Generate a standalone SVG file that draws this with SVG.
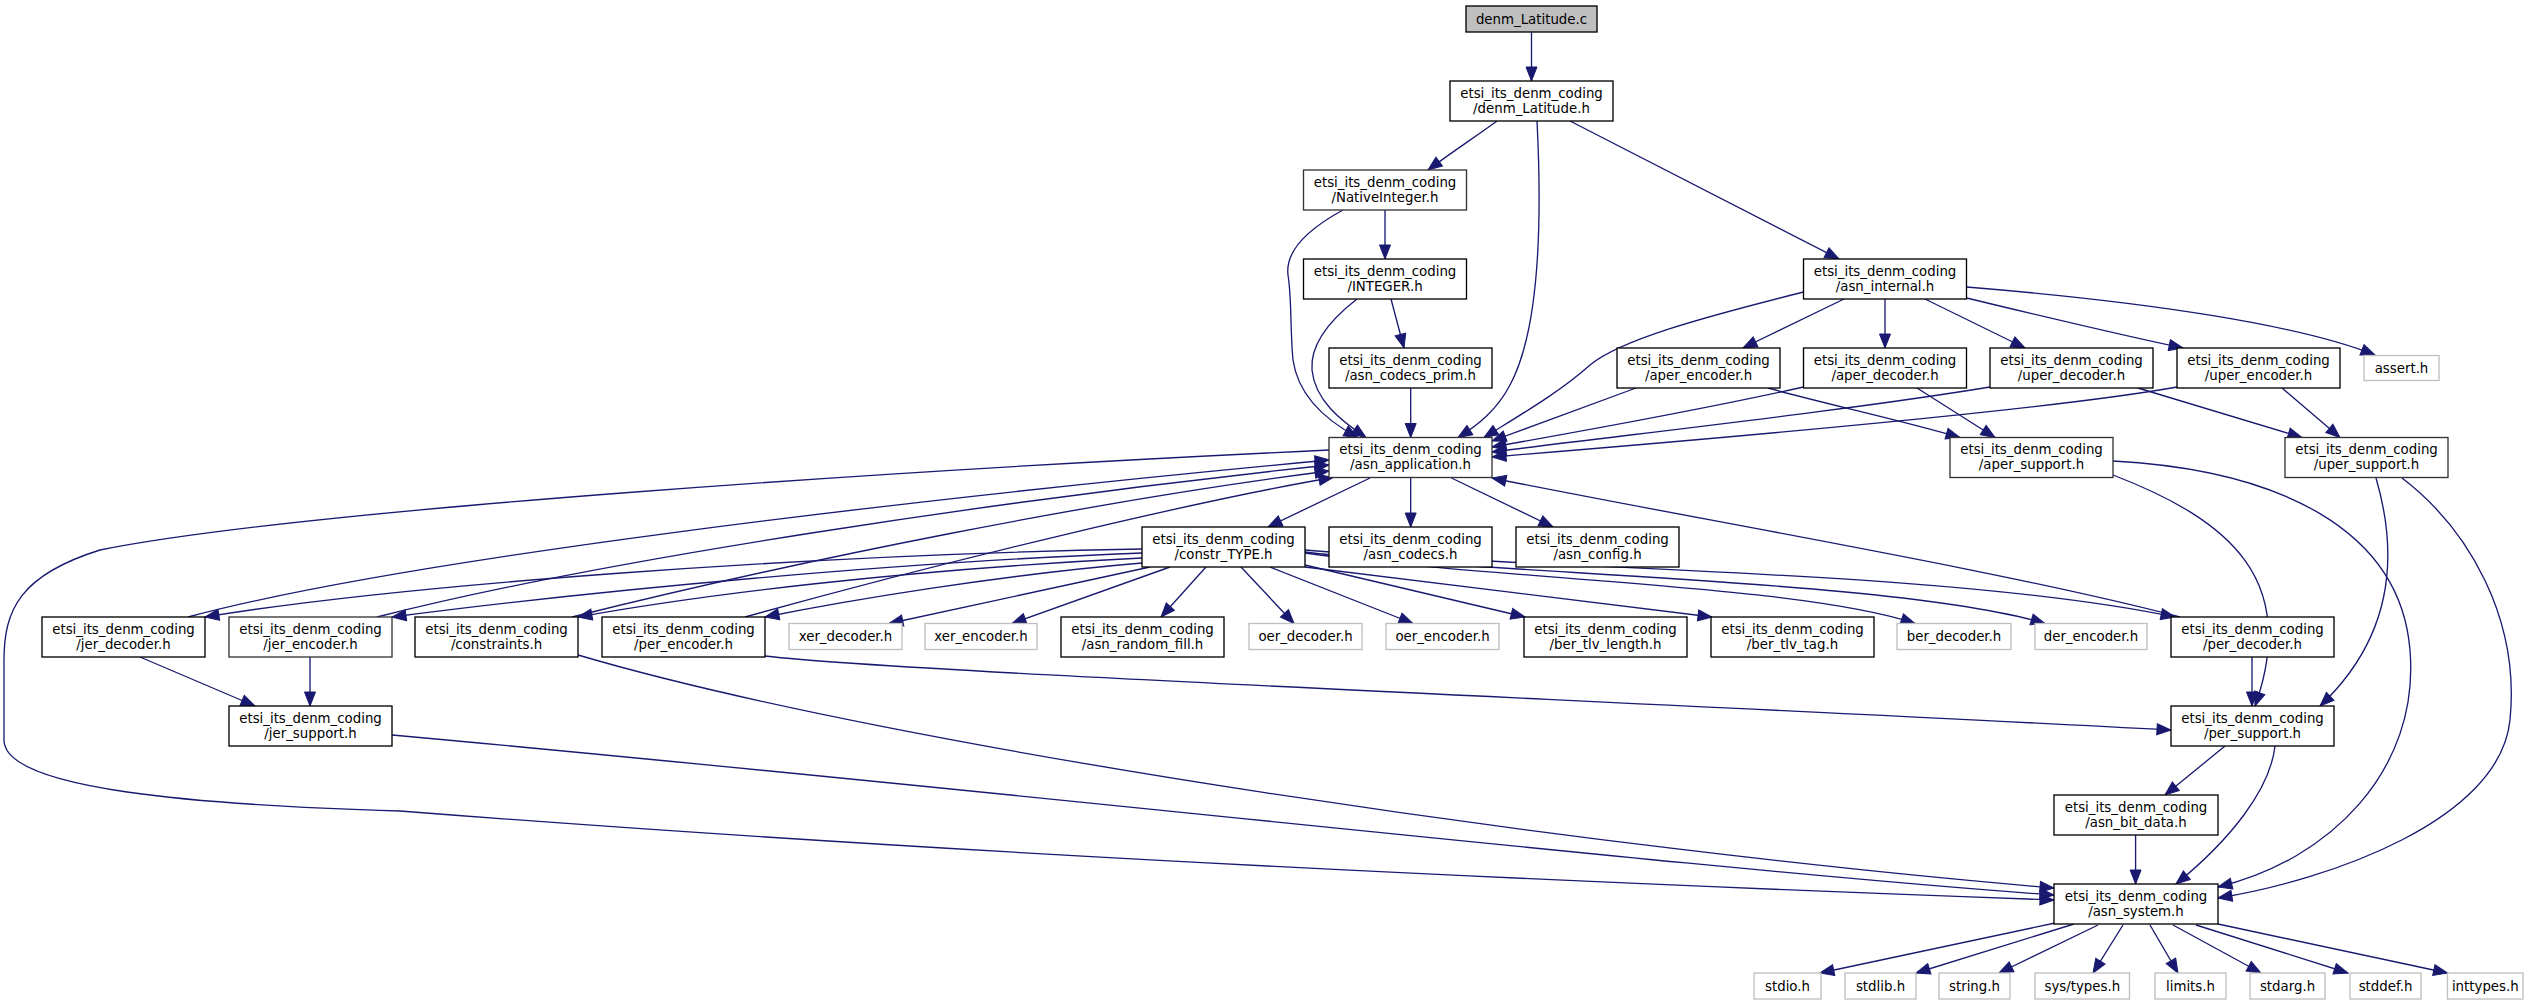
<svg xmlns="http://www.w3.org/2000/svg" width="2541" height="1005" viewBox="0 0 2541 1005">
<style>
.n rect{fill:#fff;stroke:#000;stroke-width:1.33}
.n.k rect{stroke:#333}
.n.x rect{stroke:#bfbfbf}
.n.r rect{fill:#bfbfbf;stroke:#000}
text{font-family:"DejaVu Sans","Liberation Sans",sans-serif;font-size:13.33px;text-anchor:middle;fill:#000}
#edges path{fill:none;stroke:#191970;stroke-width:1.33;marker-end:url(#a)}
</style>
<defs>
<marker id="a" markerUnits="userSpaceOnUse" markerWidth="16" markerHeight="13" refX="14" refY="5.5" orient="auto" viewBox="-1 -1 16 13">
<path d="M0,0 L14,5.5 L0,11 z" fill="#191970" stroke="#191970" stroke-width="1"/>
</marker>
</defs>
<rect width="2541" height="1005" fill="#fff"/>
<g id="edges">
<path d="M1531.5,32 L1531.5,81"/>
<path d="M1497,121 C1478,135 1455,150 1428,170"/>
<path d="M1537,121 C1540,180 1545,320 1510,385 C1497,410 1478,425 1458,437.5"/>
<path d="M1570,121 L1839,259"/>
<path d="M1385,210 L1385,259"/>
<path d="M1343,210 C1310,228 1285,250 1288,275 C1292,300 1290,330 1293,360 C1298,395 1325,420 1358,437.5"/>
<path d="M1357,299 C1330,320 1310,345 1312,370 C1315,400 1340,420 1366,437.5"/>
<path d="M1391,299 L1404,348"/>
<path d="M1410.7,388 L1410.7,437.5"/>
<path d="M1803.5,292 C1700,318 1620,340 1590,365 C1560,392 1520,415 1484,437.5"/>
<path d="M1844,299 L1743,348"/>
<path d="M1885,299 L1885,348"/>
<path d="M1925,299 L2025,348"/>
<path d="M1966.5,298 C2050,318 2120,335 2183,348"/>
<path d="M1966.5,287 C2150,302 2300,325 2375,355"/>
<path d="M1636,388 L1492,441"/>
<path d="M1803.5,387 C1700,410 1600,428 1492,447"/>
<path d="M1990,387 C1850,410 1650,432 1492,452"/>
<path d="M2177,387 C2050,410 1700,440 1492,457"/>
<path d="M1768,388 C1830,405 1900,420 1960,437.5"/>
<path d="M1917,388 L1995,437.5"/>
<path d="M2138,388 L2302,437.5"/>
<path d="M2282,388 L2340,437.5"/>
<path d="M2113,475 C2230,520 2300,580 2255,706"/>
<path d="M2113,461 C2280,470 2400,530 2410,650 C2420,770 2330,860 2218,887"/>
<path d="M2376,478 C2400,560 2390,640 2320,706"/>
<path d="M2402,478 C2470,530 2520,620 2510,720 C2500,820 2330,880 2218,898"/>
<path d="M1329,450 C900,470 300,510 100,550 C20,575 4,610 4,660 L4,740 C4,790 200,805 400,811 C900,850 1500,880 2054,900"/>
<path d="M1370,478 L1268,527"/>
<path d="M1410.7,478 L1410.7,527"/>
<path d="M1451.5,478 L1553,527"/>
<path d="M2180,617 C2000,570 1700,520 1492,478"/>
<path d="M1142,549 C800,555 400,585 205,617"/>
<path d="M1142,553 C900,562 600,590 392,617"/>
<path d="M1142,558 C900,570 700,595 578,617"/>
<path d="M1142,563 C1000,575 850,600 765,617"/>
<path d="M1150,567 L889,623.5"/>
<path d="M1170,567 L1012,623.5"/>
<path d="M1206,567 L1161,617"/>
<path d="M1241,567 L1294,623.5"/>
<path d="M1270,567 L1413,623.5"/>
<path d="M1305,565 L1525,617"/>
<path d="M1305,567 L1712,617"/>
<path d="M1305,553 C1500,580 1800,585 1915,623.5"/>
<path d="M1305,552 C1500,575 1900,580 2045,623.5"/>
<path d="M1305,550 C1550,570 1950,570 2175,617"/>
<path d="M188,617 C400,560 900,500 1329,460"/>
<path d="M377,617 C600,560 1000,500 1329,465"/>
<path d="M572,617 C800,560 1100,500 1329,471"/>
<path d="M745,617 C950,560 1200,500 1333,477.5"/>
<path d="M140,657 L255,706"/>
<path d="M310,657 L310,706"/>
<path d="M765,656 C900,672 1600,700 2171,730"/>
<path d="M578,655 C900,750 1600,850 2054,888"/>
<path d="M392,735 C1000,790 1700,870 2054,895"/>
<path d="M2252,657 L2252,706"/>
<path d="M2225,746 L2165,795"/>
<path d="M2275,746 C2270,790 2230,840 2176,884"/>
<path d="M2135.6,835 L2135.6,884"/>
<path d="M2055,923 L1820,973"/>
<path d="M2074,924 L1916,973"/>
<path d="M2098,925 L1999,973"/>
<path d="M2123,925 L2093,973"/>
<path d="M2150,925 L2178,973"/>
<path d="M2173,925 L2261,973"/>
<path d="M2196,925 L2348,973"/>
<path d="M2218,924 L2447.5,973"/>
</g>
<g id="n_c" class="n r"><rect x="1466" y="6" width="131" height="26"/><text x="1531.5" y="23.5">denm_Latitude.c</text></g>
<g id="n_h" class="n"><rect x="1450" y="81" width="163" height="40"/><text x="1531.5" y="97.5">etsi_its_denm_coding</text><text x="1531.5" y="112.5">/denm_Latitude.h</text></g>
<g id="n_native" class="n k"><rect x="1303.5" y="170" width="163" height="40"/><text x="1385" y="186.5">etsi_its_denm_coding</text><text x="1385" y="201.5">/NativeInteger.h</text></g>
<g id="n_integer" class="n"><rect x="1303.5" y="259" width="163" height="40"/><text x="1385" y="275.5">etsi_its_denm_coding</text><text x="1385" y="290.5">/INTEGER.h</text></g>
<g id="n_prim" class="n"><rect x="1329" y="348" width="163" height="40"/><text x="1410.5" y="364.5">etsi_its_denm_coding</text><text x="1410.5" y="379.5">/asn_codecs_prim.h</text></g>
<g id="n_internal" class="n"><rect x="1803.5" y="259" width="163" height="40"/><text x="1885" y="275.5">etsi_its_denm_coding</text><text x="1885" y="290.5">/asn_internal.h</text></g>
<g id="n_aper_enc" class="n"><rect x="1617" y="348" width="163" height="40"/><text x="1698.5" y="364.5">etsi_its_denm_coding</text><text x="1698.5" y="379.5">/aper_encoder.h</text></g>
<g id="n_aper_dec" class="n"><rect x="1803.5" y="348" width="163" height="40"/><text x="1885" y="364.5">etsi_its_denm_coding</text><text x="1885" y="379.5">/aper_decoder.h</text></g>
<g id="n_uper_dec" class="n"><rect x="1990" y="348" width="163" height="40"/><text x="2071.5" y="364.5">etsi_its_denm_coding</text><text x="2071.5" y="379.5">/uper_decoder.h</text></g>
<g id="n_uper_enc" class="n"><rect x="2177" y="348" width="163" height="40"/><text x="2258.5" y="364.5">etsi_its_denm_coding</text><text x="2258.5" y="379.5">/uper_encoder.h</text></g>
<g id="n_assert" class="n x"><rect x="2364" y="355.5" width="75" height="25"/><text x="2401.5" y="372.5">assert.h</text></g>
<g id="n_app" class="n k"><rect x="1329" y="437.5" width="163" height="40"/><text x="1410.5" y="454">etsi_its_denm_coding</text><text x="1410.5" y="469">/asn_application.h</text></g>
<g id="n_aper_sup" class="n k"><rect x="1950" y="437.5" width="163" height="40"/><text x="2031.5" y="454">etsi_its_denm_coding</text><text x="2031.5" y="469">/aper_support.h</text></g>
<g id="n_uper_sup" class="n k"><rect x="2285" y="437.5" width="163" height="40"/><text x="2366.5" y="454">etsi_its_denm_coding</text><text x="2366.5" y="469">/uper_support.h</text></g>
<g id="n_constr" class="n"><rect x="1142" y="527" width="163" height="40"/><text x="1223.5" y="543.5">etsi_its_denm_coding</text><text x="1223.5" y="558.5">/constr_TYPE.h</text></g>
<g id="n_codecs" class="n"><rect x="1329" y="527" width="163" height="40"/><text x="1410.5" y="543.5">etsi_its_denm_coding</text><text x="1410.5" y="558.5">/asn_codecs.h</text></g>
<g id="n_config" class="n"><rect x="1516" y="527" width="163" height="40"/><text x="1597.5" y="543.5">etsi_its_denm_coding</text><text x="1597.5" y="558.5">/asn_config.h</text></g>
<g id="n_jer_dec" class="n"><rect x="42" y="617" width="163" height="40"/><text x="123.5" y="633.5">etsi_its_denm_coding</text><text x="123.5" y="648.5">/jer_decoder.h</text></g>
<g id="n_jer_enc" class="n k"><rect x="229" y="617" width="163" height="40"/><text x="310.5" y="633.5">etsi_its_denm_coding</text><text x="310.5" y="648.5">/jer_encoder.h</text></g>
<g id="n_constraints" class="n"><rect x="415" y="617" width="163" height="40"/><text x="496.5" y="633.5">etsi_its_denm_coding</text><text x="496.5" y="648.5">/constraints.h</text></g>
<g id="n_per_enc" class="n"><rect x="602" y="617" width="163" height="40"/><text x="683.5" y="633.5">etsi_its_denm_coding</text><text x="683.5" y="648.5">/per_encoder.h</text></g>
<g id="n_xer_dec" class="n x"><rect x="789" y="623.5" width="113" height="26"/><text x="845.5" y="641">xer_decoder.h</text></g>
<g id="n_xer_enc" class="n x"><rect x="925" y="623.5" width="112" height="26"/><text x="981" y="641">xer_encoder.h</text></g>
<g id="n_random" class="n"><rect x="1061" y="617" width="163" height="40"/><text x="1142.5" y="633.5">etsi_its_denm_coding</text><text x="1142.5" y="648.5">/asn_random_fill.h</text></g>
<g id="n_oer_dec" class="n x"><rect x="1249" y="623.5" width="113" height="26"/><text x="1305.5" y="641">oer_decoder.h</text></g>
<g id="n_oer_enc" class="n x"><rect x="1386" y="623.5" width="113" height="26"/><text x="1442.5" y="641">oer_encoder.h</text></g>
<g id="n_ber_len" class="n"><rect x="1524" y="617" width="163" height="40"/><text x="1605.5" y="633.5">etsi_its_denm_coding</text><text x="1605.5" y="648.5">/ber_tlv_length.h</text></g>
<g id="n_ber_tag" class="n"><rect x="1711" y="617" width="163" height="40"/><text x="1792.5" y="633.5">etsi_its_denm_coding</text><text x="1792.5" y="648.5">/ber_tlv_tag.h</text></g>
<g id="n_ber_dec" class="n x"><rect x="1897" y="623.5" width="114" height="26"/><text x="1954" y="641">ber_decoder.h</text></g>
<g id="n_der_enc" class="n x"><rect x="2035" y="623.5" width="112" height="26"/><text x="2091" y="641">der_encoder.h</text></g>
<g id="n_per_dec" class="n"><rect x="2171" y="617" width="163" height="40"/><text x="2252.5" y="633.5">etsi_its_denm_coding</text><text x="2252.5" y="648.5">/per_decoder.h</text></g>
<g id="n_jer_sup" class="n"><rect x="229" y="706" width="163" height="40"/><text x="310.5" y="722.5">etsi_its_denm_coding</text><text x="310.5" y="737.5">/jer_support.h</text></g>
<g id="n_per_sup" class="n"><rect x="2171" y="706" width="163" height="40"/><text x="2252.5" y="722.5">etsi_its_denm_coding</text><text x="2252.5" y="737.5">/per_support.h</text></g>
<g id="n_bit" class="n"><rect x="2054" y="795" width="164" height="40"/><text x="2136" y="811.5">etsi_its_denm_coding</text><text x="2136" y="826.5">/asn_bit_data.h</text></g>
<g id="n_system" class="n"><rect x="2054" y="884" width="164" height="40"/><text x="2136" y="900.5">etsi_its_denm_coding</text><text x="2136" y="915.5">/asn_system.h</text></g>
<g id="n_stdio" class="n x"><rect x="1754" y="973" width="67" height="26"/><text x="1787.5" y="990.5">stdio.h</text></g>
<g id="n_stdlib" class="n x"><rect x="1845" y="973" width="71" height="26"/><text x="1880.5" y="990.5">stdlib.h</text></g>
<g id="n_string" class="n x"><rect x="1939" y="973" width="71" height="26"/><text x="1974.5" y="990.5">string.h</text></g>
<g id="n_systypes" class="n x"><rect x="2035" y="973" width="94.5" height="26"/><text x="2082.3" y="990.5">sys/types.h</text></g>
<g id="n_limits" class="n x"><rect x="2155" y="973" width="71" height="26"/><text x="2190.5" y="990.5">limits.h</text></g>
<g id="n_stdarg" class="n x"><rect x="2250" y="973" width="75" height="26"/><text x="2287.5" y="990.5">stdarg.h</text></g>
<g id="n_stddef" class="n x"><rect x="2350" y="973" width="71" height="26"/><text x="2385.5" y="990.5">stddef.h</text></g>
<g id="n_inttypes" class="n x"><rect x="2447.5" y="973" width="75.5" height="26"/><text x="2485.3" y="990.5">inttypes.h</text></g>
</svg>
